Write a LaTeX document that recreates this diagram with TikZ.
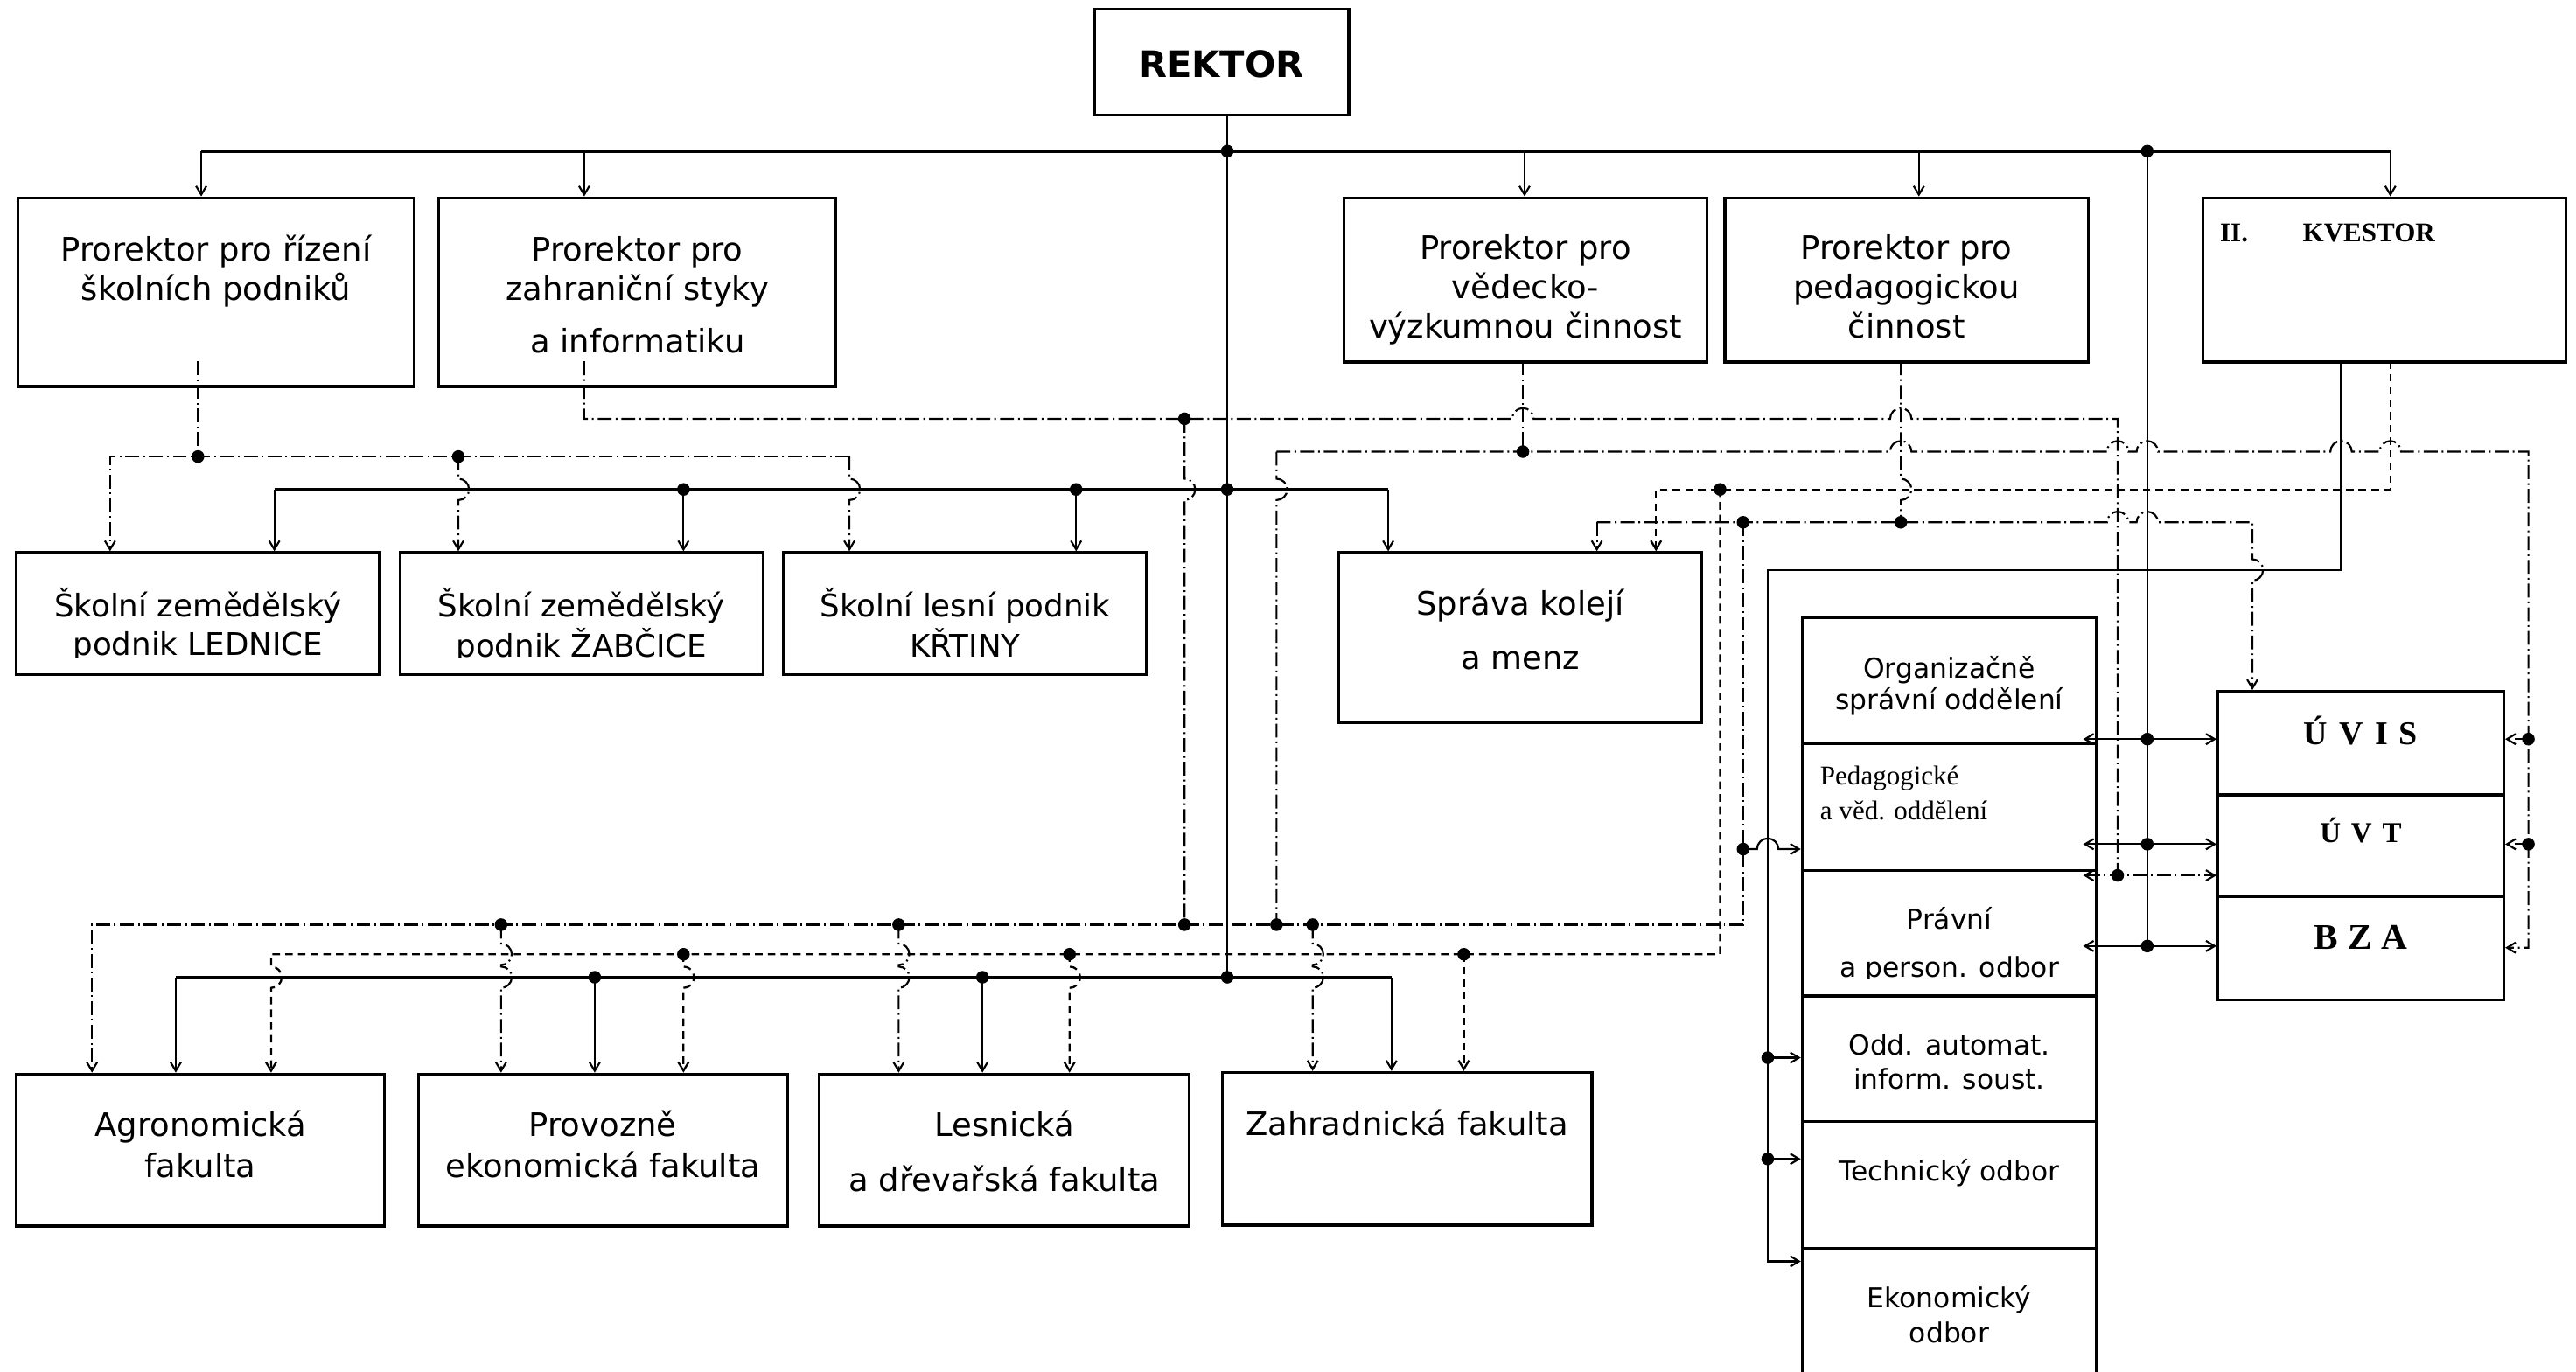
\documentclass[tikz,border=0pt]{standalone}
\usepackage{fontspec}
\setmainfont{DejaVu Sans}
\newfontfamily\serfont{Liberation Serif}
\usetikzlibrary{arrows.meta,fit}

% box texts, baseline = first line
\newcommand{\boxtxt}[1]{\begin{tabular}[t]{@{}c@{}}#1\end{tabular}}
\newcommand{\boxtxtl}[1]{\begin{tabular}[t]{@{}l@{}}#1\end{tabular}}
% line jumps (horizontal over a vertical, vertical over a horizontal)
\newcommand{\hjmp}[2]{-- (#1-6.5,#2) arc[start angle=180,end angle=360,radius=6.5]}
\newcommand{\vjmp}[2]{-- (#1,#2-6.5) arc[start angle=-90,end angle=90,radius=6.5]}

\tikzset{
  unit/.style={draw,line width=1pt,inner sep=0pt},
  conn/.style={line width=0.65pt},
  bus/.style={line width=1.2pt},
  ddline/.style={line width=0.65pt,dash pattern=on 4.8pt off 1.4pt on 0.6pt off 1.4pt},
  dsline/.style={line width=0.7pt,dash pattern=on 2.6pt off 1.8pt},
  txt/.style={anchor=base,inner sep=0pt,font=\fontsize{11.2}{13.6}\selectfont},
  smalltxt/.style={anchor=base,inner sep=0pt,font=\fontsize{9.5}{11.6}\selectfont},
  >={Straight Barb[length=3pt,width=3.6pt]}
}

\begin{document}
\begin{tikzpicture}[x=0.02cm,y=-0.02cm]
\useasboundingbox (0,0) rectangle (1568,835);

% boxes
\node[unit,fit={(666,5.5) (821,70)}] (rektor) {};
\node[unit,fit={(11,120.5) (252,235.4)}] (prA) {};
\node[unit,fit={(267,120.5) (508.5,235.4)}] (prB) {};
\node[unit,fit={(818,120.5) (1039,220.5)}] (prC) {};
\node[unit,fit={(1050,120.5) (1271,220.5)}] (prD) {};
\node[unit,fit={(1341,120.5) (1562,220.5)}] (kvestor) {};
\node[unit,fit={(10,336.5) (231,410.6)}] (szA) {};
\node[unit,fit={(243.5,336.5) (464.5,410.6)}] (szB) {};
\node[unit,fit={(477,336.5) (698,410.6)}] (szC) {};
\node[unit,fit={(814.7,336.5) (1036,440)}] (sprava) {};
\node[unit,fit={(9.7,654) (234,746.5)}] (fA) {};
\node[unit,fit={(254.8,654) (479.4,746.5)}] (fB) {};
\node[unit,fit={(498.7,654) (724,746.5)}] (fC) {};
\node[unit,fit={(744,653) (969,746)}] (fD) {};
\node[unit,fit={(1097,376.3) (1276,453)}] (org) {};
\node[unit,fit={(1097,453) (1276,530)}] (ped) {};
\node[unit,fit={(1097,530) (1276,606.5)}] (prav) {};
\node[unit,fit={(1097,606.5) (1276,683)}] (oddA) {};
\node[unit,fit={(1097,683) (1276,760)}] (tech) {};
\node[unit,fit={(1097,760) (1276,845)}] (ekon) {};
\node[unit,fit={(1350,421) (1524,484)}] (uvis) {};
\node[unit,fit={(1350,484) (1524,546)}] (uvt) {};
\node[unit,fit={(1350,546) (1524,609)}] (bza) {};

% texts
\node[txt,font=\bfseries\fontsize{12.6}{15}\selectfont] (rektor-t) at (743.5,47) {REKTOR};
\node[txt] (prA-t) at (131.5,159) {\boxtxt{Prorektor pro řízení\\školních podniků}};
\node[txt] (prB-t) at (388,159) {\boxtxt{Prorektor pro\\zahraniční styky\\[4.5pt]a informatiku}};
\node[txt] (prC-t) at (928.5,158) {\boxtxt{Prorektor pro\\vědecko-\\výzkumnou činnost}};
\node[txt] (prD-t) at (1160.5,158) {\boxtxt{Prorektor pro\\pedagogickou\\činnost}};
\node[anchor=base west,inner sep=0pt,font=\serfont\bfseries\fontsize{9.4}{11}\selectfont] (kvestor-t) at (1351,147.3) {II.\hspace{19pt}KVESTOR};
\begin{scope}
  \clip (0,330) rectangle (720,400.3);
  \node[txt,font=\fontsize{10.8}{13.6}\selectfont] (szA-t) at (120.5,375.4) {\boxtxt{Školní zemědělský\\podnik LEDNICE}};
  \node[txt,font=\fontsize{10.8}{13.6}\selectfont] (szB-t) at (354,375.4) {\boxtxt{Školní zemědělský\\podnik ŽABČICE}};
  \node[txt,font=\fontsize{10.8}{13.6}\selectfont] (szC-t) at (587.5,375.4) {\boxtxt{Školní lesní podnik\\KŘTINY}};
\end{scope}
\node[txt] (sprava-t) at (925.4,374.5) {\boxtxt{Správa kolejí\\[5.1pt]a menz}};
\node[txt] (fA-t) at (122,692) {\boxtxt{Agronomická\\[0.6pt]fakulta}};
\node[txt] (fB-t) at (367,692) {\boxtxt{Provozně\\[0.6pt]ekonomická fakulta}};
\node[txt] (fC-t) at (611.4,692) {\boxtxt{Lesnická\\[5.4pt]a dřevařská fakulta}};
\node[txt] (fD-t) at (856.5,691.5) {Zahradnická fakulta};
\node[smalltxt] (org-t) at (1186.5,412.7) {\boxtxt{Organizačně\\[-0.7pt]správní oddělení}};
\node[anchor=base west,inner sep=0pt,font=\serfont\fontsize{9.4}{11.9}\selectfont] (ped-t) at (1107.6,478) {\boxtxtl{Pedagogické\\a věd. oddělení}};
\begin{scope}
  \clip (1097,530) rectangle (1276,595.6);
  \node[smalltxt] (prav-t) at (1186.5,565.5) {\boxtxt{Právní\\[5.3pt]a person. odbor}};
\end{scope}
\node[smalltxt] (oddA-t) at (1186.5,642.5) {\boxtxt{Odd. automat.\\inform. soust.}};
\node[smalltxt] (tech-t) at (1186.5,718.8) {Technický odbor};
\node[smalltxt] (ekon-t) at (1186.5,796) {\boxtxt{Ekonomický\\[0.6pt]odbor}};
\node[anchor=base,inner sep=0pt,font=\serfont\bfseries\fontsize{11.5}{14}\selectfont] (uvis-t) at (1437,453.6) {Ú\hspace{4pt}V\hspace{4pt}I\hspace{4pt}S};
\node[anchor=base,inner sep=0pt,font=\serfont\bfseries\fontsize{10}{12}\selectfont] (uvt-t) at (1437,513) {Ú\hspace{3.6pt}V\hspace{3.6pt}T};
\node[anchor=base,inner sep=0pt,font=\serfont\bfseries\fontsize{12.5}{15}\selectfont] (bza-t) at (1437,578) {B\hspace{3.3pt}Z\hspace{3.3pt}A};

% solid lines
\coordinate (tb) at (747,92);
\coordinate (tk) at (1307,92);
\coordinate (bb) at (747,595);
\draw[conn] (rektor.south -| tb) -- (bb);
\draw[bus] (122.5,92) -- (1455,92);
\foreach \x/\n in {122.5/prA,355.6/prB,928/prC,1168/prD,1455/kvestor}
  \draw[conn,->] (\x,92) -- (\n.north -| \x,0);
\draw[conn] (tk) -- (1307,576);
\foreach \y/\n in {450/uvis,514/uvt,576/bza}
  \draw[conn,<->] (1268,\y) -- (\n.west |- 0,\y);
\draw[bus] (167,298) -- (845,298);
\foreach \x/\n in {167/szA,416/szB,655/szC,845/sprava}
  \draw[conn,->] (\x,298) -- (\n.north -| \x,0);
\draw[bus] (107,595) -- (847,595);
\foreach \x/\n in {107/fA,362/fB,598/fC,847/fD}
  \draw[conn,->] (\x,595) -- (\n.north -| \x,0);
\draw[conn,->] (1425,220) -- (1425,347) -- (1076,347) -- (1076,768) -- (ekon.west |- 0,768);
\draw[conn,->] (1076,644) -- (oddA.west |- 0,644);
\draw[conn,->] (1076,705.6) -- (tech.west |- 0,705.6);

% dash-dot lines
\draw[ddline] (120.5,220) -- (120.5,278);
\draw[ddline,->] (517,278) -- (67,278) -- (szA.north -| 67,0);
\draw[ddline,->] (279,278) \vjmp{279}{298} -- (szB.north -| 279,0);
\draw[ddline,->] (517,278) \vjmp{517}{298} -- (szC.north -| 517,0);
\draw[ddline] (355.6,220) -- (355.6,255) \hjmp{927}{255} \hjmp{1157}{255} -- (1289,255) -- (1289,533);
\draw[ddline,<->] (1268,533) -- (uvt.west |- 0,533);
\draw[ddline] (721,255) \vjmp{721}{298} -- (721,563);
\draw[ddline] (927,220) -- (927,275);
\draw[ddline,->] (777,275) \hjmp{1157}{275} \hjmp{1289}{275} \hjmp{1307}{275} \hjmp{1425}{275} \hjmp{1455}{275} -- (1539,275) -- (1539,577) -- (bza.east |- 0,577);
\draw[ddline,->] (1539,450) -- (uvis.east |- 0,450);
\draw[ddline,->] (1539,514) -- (uvt.east |- 0,514);
\draw[ddline] (777,275) \vjmp{777}{298} -- (777,563);
\draw[ddline] (1157,220) \vjmp{1157}{298} -- (1157,318);
\draw[ddline,->] (972,318) \hjmp{1289}{318} \hjmp{1307}{318} -- (1371,318) \vjmp{1371}{347} -- (uvis.north -| 1371,0);
\draw[ddline,->] (972,318) -- (sprava.north -| 972,0);
\draw[ddline,->] (1061,318) -- (1061,563) -- (56,563) -- (fA.north -| 56,0);
\draw[conn,->] (1061,517) \hjmp{1076}{517} -- (ped.west |- 0,517);
\draw[ddline,->] (305,563) \vjmp{305}{581} \vjmp{305}{595} -- (fB.north -| 305,0);
\draw[ddline,->] (547,563) \vjmp{547}{581} \vjmp{547}{595} -- (fC.north -| 547,0);
\draw[ddline,->] (799,563) \vjmp{799}{581} \vjmp{799}{595} -- (fD.north -| 799,0);

% dashed lines
\draw[dsline,->] (1455,220) -- (1455,298) -- (1008,298) -- (sprava.north -| 1008,0);
\draw[dsline,->] (1047,298) -- (1047,581) -- (165,581) \vjmp{165}{595} -- (fA.north -| 165,0);
\draw[dsline,->] (416,581) \vjmp{416}{595} -- (fB.north -| 416,0);
\draw[dsline,->] (651,581) \vjmp{651}{595} -- (fC.north -| 651,0);
\draw[dsline,->] (891,581) -- (fD.north -| 891,0);

% junction dots
\foreach \x/\y in {747/92,1307/92,747/298,416/298,655/298,120.5/278,279/278,721/255,927/275,
  1157/318,1061/318,1047/298,1307/450,1307/514,1307/576,1289/533,1539/450,1539/514,1061/517,
  1076/644,1076/705.6,305/563,547/563,721/563,777/563,799/563,416/581,651/581,891/581,
  362/595,598/595,747/595}
  \fill (\x,\y) circle[radius=2.2pt];
\end{tikzpicture}
\end{document}
